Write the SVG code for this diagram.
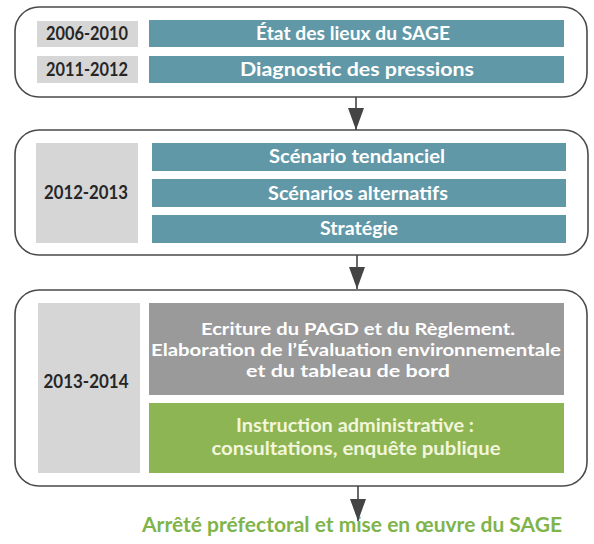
<svg xmlns="http://www.w3.org/2000/svg" width="594" height="544" viewBox="0 0 594 544">
<defs>
<style>
.frame{fill:#ffffff;stroke:#4a4a4a;stroke-width:1.6}
.year{fill:#d6d6d6}
.teal{fill:#6198a7}
.grey{fill:#9a9a9a}
.green{fill:#8db554}
text{font-family:Lato,"Open Sans","Liberation Sans",sans-serif;font-weight:700;text-anchor:middle}
.yt{font-size:18px;fill:#262626}
.wt{font-size:18px;fill:#ffffff}
.gt{font-size:18px;fill:#f3f5dc}
.ml{font-size:17px}
.ft{font-size:20px;fill:#80b44a}
.conn{stroke:#444444;stroke-width:1.6;fill:none}
</style>
<marker id="ah" markerUnits="userSpaceOnUse" markerWidth="22" markerHeight="16" refX="22" refY="8" orient="auto" viewBox="0 0 22 16">
<path d="M0,0 L22,8 L0,16 z" fill="#444444"/>
</marker>
</defs>
<rect width="594" height="544" fill="#ffffff"/>

<g id="phase1">
<rect class="frame" x="15" y="7" width="572" height="90" rx="24"/>
<rect class="year" x="37" y="21" width="101" height="26"/>
<text class="yt" x="87" y="40" textLength="82" lengthAdjust="spacingAndGlyphs">2006-2010</text>
<rect class="year" x="37" y="56" width="101" height="27"/>
<text class="yt" x="87" y="76" textLength="82" lengthAdjust="spacingAndGlyphs">2011-2012</text>
<rect class="teal" x="149" y="20" width="415" height="27"/>
<text class="wt" x="353" y="39.5" textLength="194" lengthAdjust="spacingAndGlyphs">État des lieux du SAGE</text>
<rect class="teal" x="149" y="56" width="415" height="27"/>
<text class="wt" x="357" y="75.5" textLength="234" lengthAdjust="spacingAndGlyphs">Diagnostic des pressions</text>
</g>

<g id="phase2">
<rect class="frame" x="15" y="130" width="573" height="125" rx="24"/>
<rect class="year" x="36" y="143" width="102" height="100"/>
<text class="yt" x="86" y="198.5" textLength="84" lengthAdjust="spacingAndGlyphs">2012-2013</text>
<rect class="teal" x="152" y="143" width="414" height="28"/>
<text class="wt" x="357" y="163" textLength="176" lengthAdjust="spacingAndGlyphs">Scénario tendanciel</text>
<rect class="teal" x="152" y="179" width="414" height="28"/>
<text class="wt" x="358" y="200" textLength="180" lengthAdjust="spacingAndGlyphs">Scénarios alternatifs</text>
<rect class="teal" x="152" y="215" width="414" height="28"/>
<text class="wt" x="359" y="234.5" textLength="78" lengthAdjust="spacingAndGlyphs">Stratégie</text>
</g>

<g id="phase3">
<rect class="frame" x="15" y="290" width="572" height="196" rx="24"/>
<rect class="year" x="38" y="303" width="102" height="170"/>
<text class="yt" x="86" y="387.5" textLength="85" lengthAdjust="spacingAndGlyphs">2013-2014</text>
<rect class="grey" x="149" y="303" width="415" height="92"/>
<text class="wt ml" x="358" y="334.5" textLength="314" lengthAdjust="spacingAndGlyphs">Ecriture du PAGD et du Règlement.</text>
<text class="wt ml" x="356" y="356" textLength="410" lengthAdjust="spacingAndGlyphs">Elaboration de l’Évaluation environnementale</text>
<text class="wt ml" x="348" y="377" textLength="204" lengthAdjust="spacingAndGlyphs">et du tableau de bord</text>
<rect class="green" x="149" y="403" width="415" height="70"/>
<text class="gt" x="355" y="432" textLength="238" lengthAdjust="spacingAndGlyphs">Instruction administrative :</text>
<text class="gt" x="356" y="455" textLength="289" lengthAdjust="spacingAndGlyphs">consultations, enquête publique</text>
</g>

<g id="result">
<text class="ft" x="352" y="532" textLength="420" lengthAdjust="spacingAndGlyphs">Arrêté préfectoral et mise en œuvre du SAGE</text>
</g>

<g id="connectors">
<line class="conn" x1="356" y1="97" x2="356" y2="130" marker-end="url(#ah)"/>
<line class="conn" x1="357" y1="255" x2="357" y2="289" marker-end="url(#ah)"/>
<line class="conn" x1="358" y1="486" x2="358" y2="521" marker-end="url(#ah)"/>
</g>
</svg>
